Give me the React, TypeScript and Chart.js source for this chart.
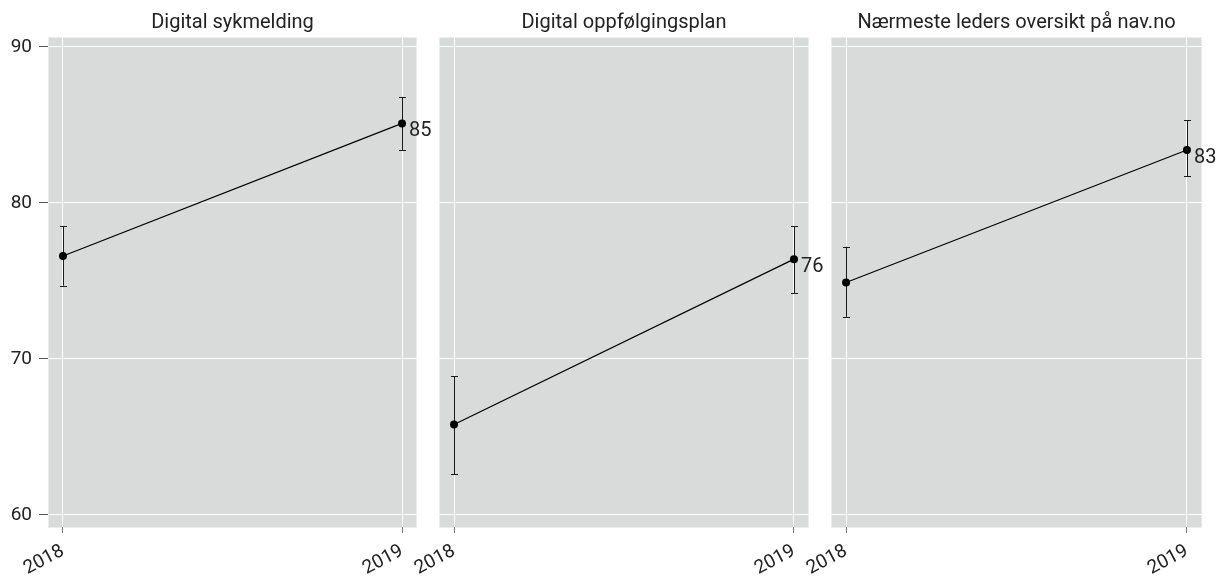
import React, { useEffect, useRef } from "react";
import { Chart, registerables } from "chart.js";

Chart.register(...registerables);

const W = 1219;
const H = 576;

const panelTitles = [
  "Digital sykmelding",
  "Digital oppfølgingsplan",
  "Nærmeste leders oversikt på nav.no",
];
const years = [2018, 2019];
const yTicks = [60, 70, 80, 90];

const sykmeldingValues = [76.6, 85.1];
const sykmeldingLower = [74.7, 83.4];
const sykmeldingUpper = [78.5, 86.8];

const oppfolgingValues = [65.8, 76.4];
const oppfolgingLower = [62.6, 74.2];
const oppfolgingUpper = [68.9, 78.5];

const lederValues = [74.9, 83.4];
const lederLower = [72.7, 81.7];
const lederUpper = [77.2, 85.3];

const seriesValues = [sykmeldingValues, oppfolgingValues, lederValues];
const seriesLower = [sykmeldingLower, oppfolgingLower, lederLower];
const seriesUpper = [sykmeldingUpper, oppfolgingUpper, lederUpper];

// layout of the three plot areas (page pixels)
const areas = [
  { left: 48, right: 417 },
  { left: 439, right: 809 },
  { left: 831, right: 1202 },
];
const AREA_TOP = 37;
const AREA_BOTTOM = 527;

const FONT = "Roboto";
const TEXT = "#222222";
const BG = "#d9dada";

function Panel({ index }: { index: number }) {
  const ref = useRef<HTMLCanvasElement | null>(null);

  useEffect(() => {
    const canvas = ref.current;
    if (!canvas) return;
    const vals = seriesValues[index];
    const lo = seriesLower[index];
    const hi = seriesUpper[index];
    const area = areas[index];
    const showY = index === 0;

    const panelPlugin = {
      id: "panelDecor" + index,
      beforeDraw(chart: any) {
        const { ctx, chartArea } = chart;
        ctx.save();
        ctx.fillStyle = BG;
        ctx.fillRect(
          chartArea.left,
          chartArea.top,
          chartArea.right - chartArea.left,
          chartArea.bottom - chartArea.top
        );
        ctx.strokeStyle = "#ececec";
        ctx.lineWidth = 1;
        ctx.strokeRect(
          chartArea.left + 0.5,
          chartArea.top + 0.5,
          chartArea.right - chartArea.left - 1,
          chartArea.bottom - chartArea.top
        );
        ctx.restore();
      },
      beforeDatasetsDraw(chart: any) {
        const { ctx } = chart;
        const xs = chart.scales.x;
        const ys = chart.scales.y;
        ctx.save();
        ctx.strokeStyle = "#1a1a1a";
        ctx.lineWidth = 1;
        years.forEach((yr, i) => {
          const px = Math.round(xs.getPixelForValue(yr)) + 0.5;
          const pl = ys.getPixelForValue(lo[i]);
          const ph = ys.getPixelForValue(hi[i]);
          ctx.beginPath();
          ctx.moveTo(px, pl);
          ctx.lineTo(px, ph);
          ctx.moveTo(px - 3.5, Math.round(pl) + 0.5);
          ctx.lineTo(px + 3.5, Math.round(pl) + 0.5);
          ctx.moveTo(px - 3.5, Math.round(ph) + 0.5);
          ctx.lineTo(px + 3.5, Math.round(ph) + 0.5);
          ctx.stroke();
        });
        ctx.restore();
      },
      afterDraw(chart: any) {
        const { ctx, chartArea } = chart;
        ctx.save();
        ctx.fillStyle = TEXT;
        ctx.font = `20px ${FONT}`;
        ctx.textAlign = "center";
        ctx.textBaseline = "middle";
        ctx.fillText(panelTitles[index], (chartArea.left + chartArea.right) / 2, 23);
        // value label at last point
        const meta = chart.getDatasetMeta(0);
        const last = meta.data[meta.data.length - 1];
        ctx.font = `20px ${FONT}`;
        ctx.textAlign = "left";
        ctx.fillText(String(Math.round(vals[vals.length - 1])), last.x + 7, last.y + 8);
        ctx.restore();
      },
    };

    const chart = new Chart(canvas, {
      type: "line",
      data: {
        datasets: [
          {
            data: years.map((yr, i) => ({ x: yr, y: vals[i] })),
            borderColor: "#000000",
            borderWidth: 1.2,
            pointRadius: 4,
            pointHoverRadius: 4,
            pointBackgroundColor: "#000000",
            pointBorderWidth: 0,
            fill: false,
            clip: false as any,
          },
        ],
      },
      options: {
        responsive: false,
        animation: false,
        maintainAspectRatio: false,
        layout: {
          padding: {
            left: showY ? 0 : area.left,
            right: W - area.right,
            top: AREA_TOP,
            bottom: 0,
          },
        },
        plugins: {
          legend: { display: false },
          tooltip: { enabled: false },
          title: { display: false },
        },
        scales: {
          x: {
            type: "linear",
            min: 2017.9558,
            max: 2019.0442,
            afterBuildTicks: (s: any) => {
              s.ticks = years.map((v) => ({ value: v }));
            },
            afterFit: (s: any) => {
              s.height = H - AREA_BOTTOM;
            },
            border: { display: false },
            grid: {
              color: "#ffffff",
              lineWidth: 1,
              tickColor: "#777777",
              tickLength: 6,
              drawTicks: true,
            },
            ticks: {
              color: TEXT,
              font: { family: FONT, size: 19 },
              minRotation: 28,
              maxRotation: 28,
              padding: 7,
              callback: (v: any) => String(v),
            },
          },
          y: {
            type: "linear",
            min: 59.23,
            max: 90.64,
            afterBuildTicks: (s: any) => {
              s.ticks = yTicks.map((v) => ({ value: v }));
            },
            afterFit: (s: any) => {
              s.width = showY ? area.left : 0;
            },
            border: { display: false },
            grid: {
              color: "#ffffff",
              lineWidth: 1,
              tickColor: "#555555",
              tickLength: showY ? 9 : 0,
              drawTicks: showY,
            },
            ticks: {
              display: showY,
              color: TEXT,
              font: { family: FONT, size: 19 },
              padding: 7,
              callback: (v: any) => String(v),
            },
          },
        },
      },
      plugins: [panelPlugin],
    } as any);

    return () => chart.destroy();
  }, [index]);

  return (
    <canvas
      ref={ref}
      width={W}
      height={H}
      style={{ position: "fixed", left: 0, top: 0, width: W, height: H }}
    />
  );
}

export default function App() {
  return (
    <div style={{ position: "fixed", left: 0, top: 0, width: W, height: H, background: "#ffffff" }}>
      <Panel index={0} />
      <Panel index={1} />
      <Panel index={2} />
    </div>
  );
}
